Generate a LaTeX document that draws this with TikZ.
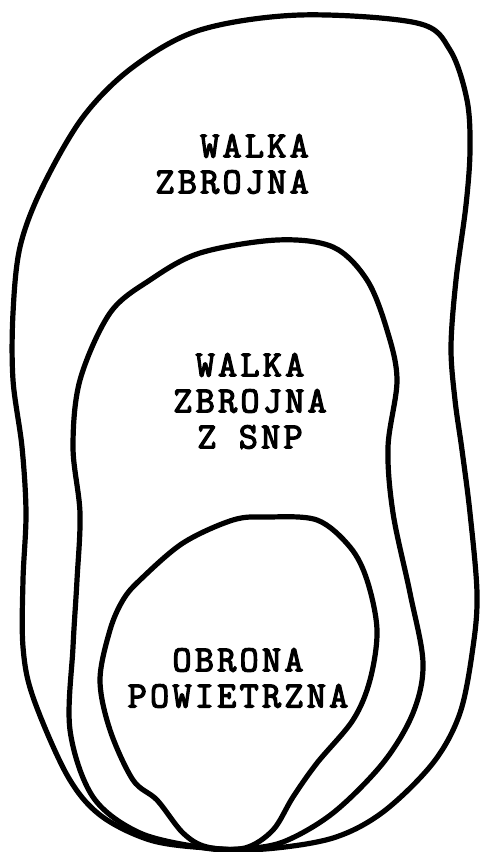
\documentclass[tikz,border=0pt]{standalone}
\usepackage{fontspec}
\newfontfamily\typew[FakeBold=3.5,LetterSpace=9]{Latin Modern Mono}
\begin{document}
\begin{tikzpicture}[x=1pt,y=-1pt,
  blob/.style={draw=black,line width=5.2pt,line join=round},
  lbl/.style={font=\typew\fontsize{37}{36}\selectfont,inner sep=0pt,text=black}]
\useasboundingbox[fill=white] (0,0) rectangle (480,852);
% outer region
\draw[blob] plot[smooth cycle,tension=0.55] coordinates {
 (300,15) (417,23) (450,50) (467,100) (470,150) (466,205) (456,280) (451,347)
 (455,400) (462,450) (470,513) (477,593) (473,647) (460,713) (433,763)
 (383,812) (333,838) (265,849) (207,848) (150,840) (100,815) (67,775)
 (33,697) (23,647) (23,580) (26,513) (22,447) (13,380) (13,313) (20,247)
 (42,188) (83,117) (133,67) (200,30)};
% middle region
\draw[blob] plot[smooth cycle,tension=0.55] coordinates {
 (277,240) (333,247) (367,280) (387,330) (397,380) (388,447) (393,513)
 (410,593) (423,663) (413,713) (383,763) (333,813) (283,842) (240,849)
 (205,848) (140,833) (93,797) (70,730) (73,647) (77,580) (80,513) (73,447)
 (80,380) (110,313) (150,280) (200,253)};
% inner region
\draw[blob] plot[smooth cycle,tension=0.55] coordinates {
 (267,517) (317,520) (350,547) (367,580) (377,630) (370,680) (353,720)
 (317,763) (293,797) (273,830) (245,848) (207,847) (183,833) (157,800)
 (133,780) (110,730) (100,680) (110,630) (123,600) (140,580) (183,543)
 (233,520)};
\node[lbl,align=right,anchor=east] (t1) at (309,164) {WALKA\\ZBROJNA};
\node[lbl,align=center] (t2) at (250,401) {WALKA\\ZBROJNA\\Z SNP};
\node[lbl,align=center] (t3) at (238,678) {OBRONA\\POWIETRZNA};
\end{tikzpicture}
\end{document}
